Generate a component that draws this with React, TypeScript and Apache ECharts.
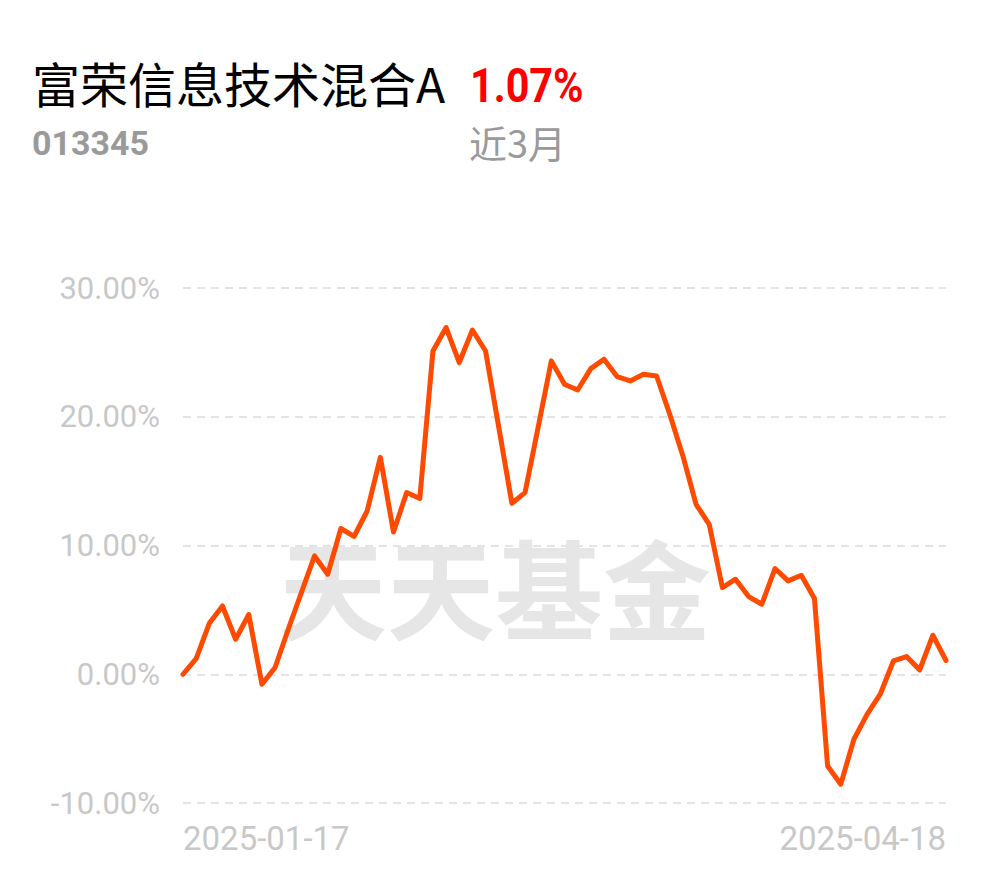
import React, { useEffect, useRef } from "react";
import * as echarts from "echarts";

const dates: string[] = [
  "2025-01-17", "2025-01-20", "2025-01-21", "2025-01-22", "2025-01-23", "2025-01-24", "2025-01-27",
  "2025-02-05", "2025-02-06", "2025-02-07", "2025-02-10", "2025-02-11", "2025-02-12", "2025-02-13", "2025-02-14",
  "2025-02-17", "2025-02-18", "2025-02-19", "2025-02-20", "2025-02-21",
  "2025-02-24", "2025-02-25", "2025-02-26", "2025-02-27", "2025-02-28",
  "2025-03-03", "2025-03-04", "2025-03-05", "2025-03-06", "2025-03-07",
  "2025-03-10", "2025-03-11", "2025-03-12", "2025-03-13", "2025-03-14",
  "2025-03-17", "2025-03-18", "2025-03-19", "2025-03-20", "2025-03-21",
  "2025-03-24", "2025-03-25", "2025-03-26", "2025-03-27", "2025-03-28",
  "2025-03-31", "2025-04-01", "2025-04-02", "2025-04-03",
  "2025-04-07", "2025-04-08", "2025-04-09", "2025-04-10", "2025-04-11",
  "2025-04-14", "2025-04-15", "2025-04-16", "2025-04-17", "2025-04-18",
];

const returns: number[] = [
  0.0, 1.22, 3.96, 5.3, 2.72, 4.64, -0.78, 0.52, 3.5, 6.35,
  9.19, 7.77, 11.32, 10.7, 12.68, 16.85, 11.05, 14.11, 13.65, 25.11,
  26.93, 24.21, 26.74, 25.11, 19.2, 13.28, 14.11, 19.2, 24.34, 22.52,
  22.08, 23.74, 24.47, 23.12, 22.78, 23.3, 23.17, 20.19, 16.96, 13.2,
  11.65, 6.73, 7.38, 6.03, 5.44, 8.21, 7.25, 7.69, 5.88, -7.12,
  -8.54, -5.05, -3.11, -1.55, 1.03, 1.37, 0.34, 3.03, 1.07,
];

const fundName = "富荣信息技术混合A";
const fundCode = "013345";
const periodReturn = "1.07%";
const periodLabel = "近3月";
const watermark = "天天基金";

export default function App() {
  const ref = useRef<HTMLDivElement>(null);
  useEffect(() => {
    if (!ref.current) return;
    const chart = echarts.init(ref.current, null, { renderer: "svg" });
    const lastIdx = dates.length - 1;
    chart.setOption({
      animation: false,
      backgroundColor: "#ffffff",
      grid: { left: 183, right: 44, top: 288, bottom: 75, containLabel: false },
      graphic: [
        {
          type: "text",
          left: 32,
          top: 58,
          style: { text: fundName, font: '48px "Noto Sans CJK SC"', fill: "#000000" },
        },
        {
          type: "text",
          x: 470,
          y: 61,
          scaleX: 0.86,
          style: { text: periodReturn, font: 'bold 48px Roboto', fill: "#ff0000" },
        },
        {
          type: "text",
          left: 32,
          top: 126,
          style: { text: fundCode, font: 'bold 34px Roboto', fill: "#9a9a9a" },
        },
        {
          type: "text",
          left: 469,
          top: 122,
          style: { text: periodLabel, font: '38px "Noto Sans CJK SC"', fill: "#9a9a9a" },
        },
        {
          type: "text",
          x: 495,
          y: 585,
          z: -10,
          silent: true,
          style: {
            text: watermark,
            font: 'bold 108px "Noto Sans CJK SC"',
            fill: "#e6e6e6",
            align: "center",
            verticalAlign: "middle",
          },
        },
      ],
      xAxis: {
        type: "category",
        data: dates,
        boundaryGap: false,
        axisLine: { show: false },
        axisTick: { show: false },
        axisLabel: {
          interval: (i: number) => i === 0 || i === lastIdx,
          showMinLabel: true,
          showMaxLabel: true,
          alignMinLabel: "left",
          alignMaxLabel: "right",
          color: "#c8c8c8",
          fontSize: 33,
          fontFamily: "Roboto",
          margin: 19,
        },
        splitLine: { show: false },
      },
      yAxis: {
        type: "value",
        min: -10,
        max: 30,
        interval: 10,
        axisLine: { show: false },
        axisTick: { show: false },
        axisLabel: {
          formatter: (v: number) => v.toFixed(2) + "%",
          color: "#c8c8c8",
          fontSize: 31,
          fontFamily: "Roboto",
          margin: 23,
        },
        splitLine: {
          show: true,
          lineStyle: { color: "#e4e4e4", width: 2, type: [8, 6] },
        },
      },
      series: [
        {
          type: "line",
          data: returns,
          showSymbol: false,
          symbol: "none",
          smooth: false,
          z: 5,
          lineStyle: { color: "#ff4a00", width: 5, join: "round", cap: "round" },
        },
      ],
    });
    return () => chart.dispose();
  }, []);
  return (
    <div
      ref={ref}
      style={{ position: "absolute", left: 0, top: 0, width: 990, height: 878 }}
    />
  );
}
